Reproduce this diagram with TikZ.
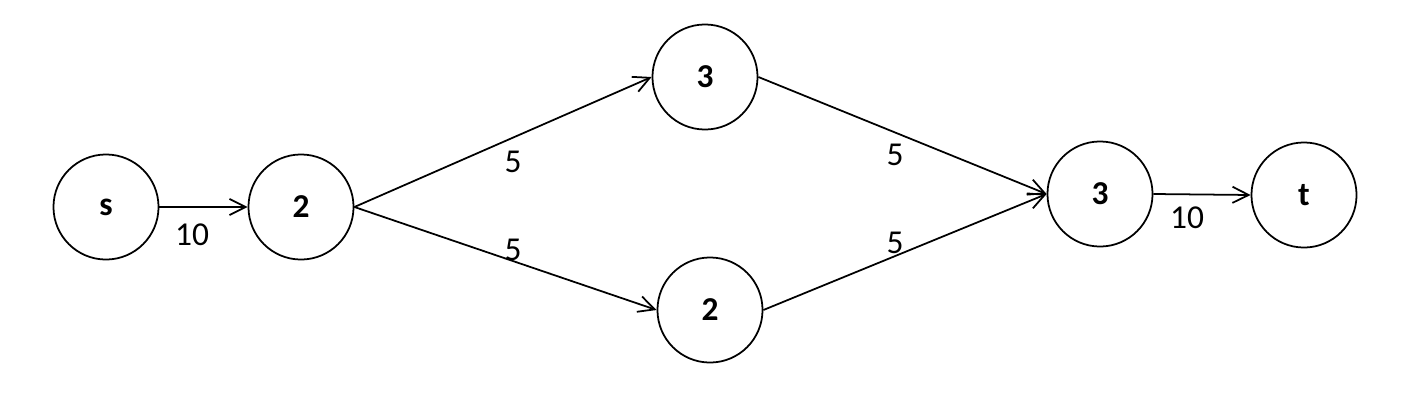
\documentclass[tikz,border=0pt]{standalone}
\usepackage{fontspec}
\setmainfont{Carlito}
\usetikzlibrary{arrows.meta}
\begin{document}
\begin{tikzpicture}[x=0.01cm, y=-0.01cm, >={Straight Barb[length=4.6pt,width=4.6pt]},
    vertex/.style={circle, draw, line width=0.5pt, minimum size=1.05cm, inner sep=0pt, font=\fontsize{9.5}{11}\selectfont\bfseries},
    edge/.style={->, line width=0.5pt},
    weight/.style={font=\fontsize{9.5}{11}\selectfont}]

    % Khung hình
    \useasboundingbox (0,0) rectangle (1412,400);

    % 1. Các đỉnh
    \node[vertex] (s) at (106,207) {s};
    \node[vertex] (a) at (301,207) {2};
    \node[vertex] (b) at (705,77) {3};
    \node[vertex] (c) at (710,310) {2};
    \node[vertex] (d) at (1100,194) {3};
    \node[vertex] (t) at (1304,195) {t};

    % 2. Các cạnh
    \draw[edge] (s.east) -- (a.west);
    \draw[edge] (a.east) -- (b.west);
    \draw[edge] (a.east) -- (c.west);
    \draw[edge] (b.east) -- (d.west);
    \draw[edge] (c.east) -- (d.west);
    \draw[edge] (d.east) -- (t.west);

    % 3. Trọng số
    \node[weight] (w1) at (192,235) {10};
    \node[weight] (w2) at (513,162) {5};
    \node[weight] (w3) at (513,250) {5};
    \node[weight] (w4) at (895,155) {5};
    \node[weight] (w5) at (895,243) {5};
    \node[weight] (w6) at (1187,218) {10};

\end{tikzpicture}
\end{document}
